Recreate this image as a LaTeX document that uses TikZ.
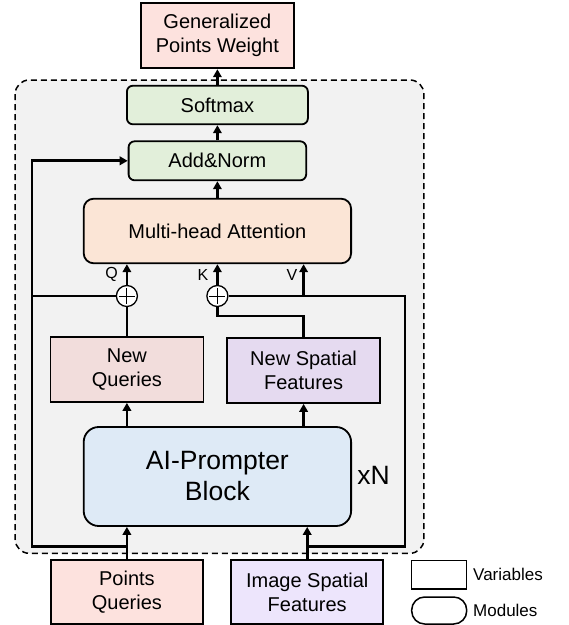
\documentclass[tikz,border=0pt]{standalone}
\usepackage{fontspec}
\setmainfont{Liberation Sans}
\usetikzlibrary{arrows.meta,calc}
\definecolor{cPink}{RGB}{253,226,222}
\definecolor{cGreen}{RGB}{226,239,218}
\definecolor{cPeach}{RGB}{251,229,214}
\definecolor{cNQ}{RGB}{242,221,220}
\definecolor{cNSF}{RGB}{229,218,240}
\definecolor{cBlue}{RGB}{222,234,246}
\definecolor{cISF}{RGB}{237,229,252}
\definecolor{cGrey}{RGB}{242,242,242}
\tikzset{
  varbox/.style={draw, line width=1.8pt, inner sep=0pt, align=center,
    font=\fontsize{20}{24}\selectfont},
  modbox/.style={varbox, rounded corners=#1},
  modbox/.default=6pt,
  conn/.style={line width=2.8pt},
  arr/.style={conn, -{Triangle[length=8pt,width=8.5pt]}},
  plusc/.style={circle, draw, line width=1.3pt, fill=white, minimum size=21pt, inner sep=0pt,
    path picture={\draw[line width=1pt] ([yshift=-2.5pt]path picture bounding box.north) -- ([yshift=2.5pt]path picture bounding box.south);
                  \draw[line width=1pt] ([xshift=2.5pt]path picture bounding box.west) -- ([xshift=-2.5pt]path picture bounding box.east);}},
  lbl/.style={font=\fontsize{16}{18}\selectfont, inner sep=0pt},
  legtxt/.style={font=\fontsize{17}{19}\selectfont, inner sep=0pt, anchor=west}
}
\begin{document}
\begin{tikzpicture}[x={(1pt,0)}, y={(0,-1pt)}]
\useasboundingbox (0,0) rectangle (569,625);
% container
\draw[fill=cGrey, line width=1.5pt, dash pattern=on 6pt off 4pt, rounded corners=14pt]
  (15.2,80) rectangle (423.9,553.3);
% boxes
\node[varbox, fill=cPink, minimum width=153pt, minimum height=65.6pt] (gpw) at (217.4,35.5) {Generalized\\Points Weight};
\node[modbox, fill=cGreen, minimum width=181pt, minimum height=38.6pt] (softmax) at (217.4,105) {Softmax};
\node[modbox, fill=cGreen, minimum width=177.6pt, minimum height=39pt] (addnorm) at (217.4,160.8) {Add\&Norm};
\node[modbox=10pt, fill=cPeach, minimum width=267.4pt, minimum height=64.6pt] (mha) at (217.4,231) {Multi-head Attention};
\node[varbox, fill=cNQ, minimum width=153pt, minimum height=65.3pt] (nq) at (126.9,369.3) {New\\Queries};
\node[varbox, fill=cNSF, minimum width=153pt, minimum height=65.3pt] (nsf) at (303.6,370.3) {New Spatial\\Features};
\node[modbox=15pt, fill=cBlue, minimum width=267.4pt, minimum height=99pt,
  font=\fontsize{26.5}{31}\selectfont] (block) at (217.4,476.5) {AI-Prompter\\Block};
\node[font=\fontsize{26.5}{31}\selectfont, inner sep=0pt] (xn) at (373.5,475.5) {xN};
\node[varbox, fill=cPink, minimum width=152.3pt, minimum height=64pt] (pq) at (126.9,592.3) {Points\\Queries};
\node[varbox, fill=cISF, minimum width=152.3pt, minimum height=64pt] (isf) at (307.2,592.3) {Image Spatial\\Features};
% adders
\node[plusc] (c1) at (126.9,296) {};
\node[plusc] (c2) at (217.4,296) {};
% labels
\node[lbl] (lq) at (111.5,274.5) {Q};
\node[lbl] (lk) at (203,274.5) {K};
\node[lbl] (lv) at (292,274.5) {V};
% junctions
\coordinate (jl) at (126.9,546.7);
\coordinate (jr) at (307.2,546.7);
\coordinate (lb) at (31.9,546.7);
\coordinate (rb) at (405,546.7);
\coordinate (vj) at (303.6,296);
\coordinate (kb) at (303.6,316);
% connectors
\draw[arr] (softmax.north) -- (gpw.south);
\draw[arr] (addnorm.north) -- (softmax.south);
\draw[arr] (mha.north) -- (addnorm.south);
\draw[arr] (pq.north) -- (pq.north |- block.south);
\draw[arr] (isf.north) -- (isf.north |- block.south);
\draw[arr] (nq.south |- block.north) -- (nq.south);
\draw[arr] (nsf.south |- block.north) -- (nsf.south);
\draw[conn] (nq.north) -- (c1.south);
\draw[conn] (nsf.north) -- (kb) -| (c2.south);
\draw[arr] (c1.north) -- (c1.north |- mha.south);
\draw[arr] (c2.north) -- (c2.north |- mha.south);
\draw[arr] (jl) -- (lb) -- (lb |- addnorm.west) -- (addnorm.west);
\draw[conn] (lb |- c1.west) -- (c1.west);
\draw[conn] (jr) -- (rb) -- (rb |- c2.east) -- (c2.east);
\draw[arr] (vj) -- (vj |- mha.south);
% legend
\node[draw, line width=1.5pt, minimum width=55pt, minimum height=28.3pt, inner sep=0pt] (lvar) at (439.2,574.8) {};
\node[draw, line width=1.5pt, minimum width=55pt, minimum height=27pt, inner sep=0pt, rounded corners=13pt] (lmod) at (439.2,610.5) {};
\node[legtxt] (tvar) at (473,574.5) {Variables};
\node[legtxt] (tmod) at (473,610.5) {Modules};
\end{tikzpicture}
\end{document}
